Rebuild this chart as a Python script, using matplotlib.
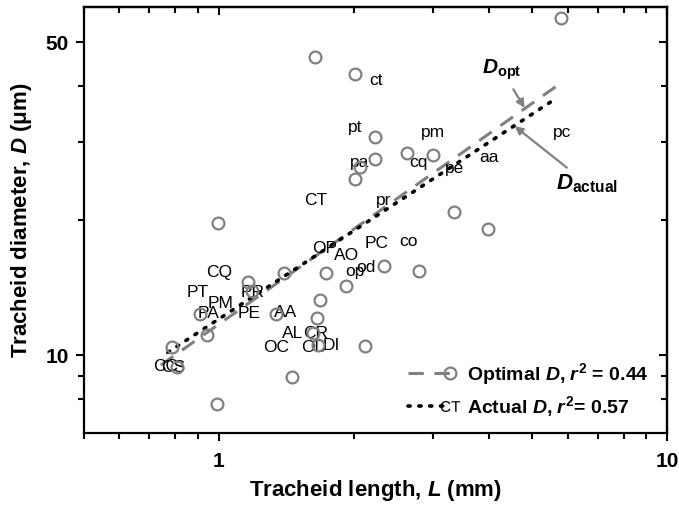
import numpy as np
import matplotlib
matplotlib.use('Agg')
import matplotlib.pyplot as plt
from matplotlib.lines import Line2D
from matplotlib.legend_handler import HandlerLine2D
from matplotlib.ticker import FixedLocator, NullFormatter, FixedFormatter

plt.rcParams['font.family'] = ['Liberation Sans', 'DejaVu Sans']
plt.rcParams['mathtext.fontset'] = 'custom'
plt.rcParams['mathtext.it'] = 'Liberation Sans:bold:italic'
plt.rcParams['mathtext.rm'] = 'Liberation Sans:bold'
plt.rcParams['mathtext.bf'] = 'Liberation Sans:bold'
plt.rcParams['mathtext.sf'] = 'Liberation Sans'

# ---- data: optimal D (open circles) ----
opt_L = [5.79, 1.64, 2.015, 2.23, 2.23, 2.63, 3.01, 2.06, 2.015, 3.34, 3.98,
         2.33, 2.79, 0.995, 1.398, 1.735, 1.161, 1.185, 1.924, 1.683, 0.907,
         1.341, 1.657, 0.940, 1.623, 1.665, 2.12, 1.457, 0.785, 0.99, 0.805]
opt_D = [56.7, 46.4, 42.5, 30.7, 27.4, 28.3, 28.0, 26.3, 24.7, 20.9, 19.1,
         15.8, 15.4, 19.7, 15.25, 15.25, 14.55, 13.9, 14.26, 13.3, 12.34,
         12.34, 12.1, 11.08, 11.19, 10.52, 10.47, 8.92, 10.41, 7.76, 9.39]

# ---- data: actual D (species codes as text) ----
act_names = ['ct', 'pt', 'pa', 'cq', 'pm', 'pc', 'aa', 'pe', 'pr', 'CT', 'PC',
             'co', 'OP', 'AO', 'od', 'op', 'CQ', 'PT', 'PR', 'PM', 'PA', 'PE',
             'AA', 'AL', 'CR', 'OC', 'OD', 'DI', 'CC', 'CS']
act_L = [2.245, 2.015, 2.058, 2.788, 3.01, 5.82, 4.0, 3.36, 2.33, 1.648, 2.245,
         2.65, 1.718, 1.924, 2.133, 2.015, 1.0, 0.897, 1.191, 1.01, 0.95, 1.167,
         1.412, 1.464, 1.648, 1.341, 1.631, 1.781, 0.761, 0.789]
act_D = [41.2, 32.3, 27.0, 26.9, 31.5, 31.5, 27.7, 26.2, 22.2, 22.2, 17.8,
         17.98, 17.35, 16.73, 15.72, 15.4, 15.32, 13.82, 13.82, 13.06, 12.41,
         12.41, 12.47, 11.19, 11.19, 10.41, 10.41, 10.52, 9.44, 9.39]

# ---- power-law fits D = a * L^b over [Lmin, Lmax] ----
opt_fit_a, opt_fit_b, opt_fit_Lmin, opt_fit_Lmax = 11.73, 0.706, 0.742, 5.64
act_fit_a, act_fit_b, act_fit_Lmin, act_fit_Lmax = 12.05, 0.655, 0.769, 5.67

legend_labels = ['Optimal $D$, $r^2$ = 0.44', 'Actual $D$, $r^2$= 0.57']

fig = plt.figure(figsize=(6.79, 5.22), dpi=100)
ax = fig.add_axes([84/679, 89/522, 583/679, 426/522])
ax.set_xscale('log')
ax.set_yscale('log')
ax.set_xlim(0.5, 10)
ax.set_ylim(6.7, 60)

grey = '#808080'
dash_style = (0, (5, 3.5))
dot_style = (0, (0.6, 2.4))
Lo = np.geomspace(opt_fit_Lmin, opt_fit_Lmax, 60)
ax.plot(Lo, opt_fit_a * Lo ** opt_fit_b, color=grey, lw=2.2,
        linestyle=dash_style, zorder=2)
La = np.geomspace(act_fit_Lmin, act_fit_Lmax, 60)
ax.plot(La, act_fit_a * La ** act_fit_b, color='black', lw=2.6,
        linestyle=dot_style, dash_capstyle='round', zorder=2)

for name, x, y in zip(act_names, act_L, act_D):
    ax.text(x, y, name, fontsize=12.5, ha='center', va='center', zorder=3)

ax.plot(opt_L, opt_D, linestyle='none', marker='o', ms=8.5, mfc='none',
        mec=grey, mew=1.6, zorder=4)

# annotations
ax.annotate('$D_{\\mathrm{opt}}$', xy=(4.81, 35.7), xytext=(4.27, 43.5),
            fontsize=15, ha='center', va='center',
            arrowprops=dict(arrowstyle='-|>', color=grey, lw=1.6,
                            mutation_scale=12, shrinkA=4, shrinkB=0))
ax.annotate('$D_{\\mathrm{actual}}$', xy=(4.57, 32.5), xytext=(6.62, 24.2),
            fontsize=16, ha='center', va='center',
            arrowprops=dict(arrowstyle='-|>', color=grey, lw=1.6,
                            mutation_scale=12, shrinkA=2, shrinkB=0))


class RightMarkerHandler(HandlerLine2D):
    def create_artists(self, *args, **kwargs):
        arts = super().create_artists(*args, **kwargs)
        for a in arts:
            if isinstance(a, Line2D):
                n = len(a.get_xdata())
                a.set_markevery([n - 1])
        return arts


h1 = Line2D([0], [0], color=grey, lw=2.2, linestyle=dash_style,
            marker='o', ms=8.5, mfc='none', mec=grey, mew=1.6)
h2 = Line2D([0], [0], color='black', lw=2.6, linestyle=dot_style,
            dash_capstyle='round', marker='$\\mathsf{CT}$', ms=14, mec='black',
            mfc='black', mew=0)
leg = ax.legend([h1, h2], legend_labels, loc='lower right',
                bbox_to_anchor=(0.999, -0.008), frameon=False,
                prop={'weight': 'bold', 'size': 14}, numpoints=1,
                handlelength=2.15, handletextpad=0.9, labelspacing=0.35,
                handler_map={h1: RightMarkerHandler(), h2: RightMarkerHandler()})

# ticks
ax.xaxis.set_major_locator(FixedLocator([1, 10]))
ax.xaxis.set_major_formatter(FixedFormatter(['1', '10']))
xminor = [0.5, 0.6, 0.7, 0.8, 0.9, 2, 3, 4, 5, 6, 7, 8, 9]
ax.xaxis.set_minor_locator(FixedLocator(xminor))
ax.xaxis.set_minor_formatter(NullFormatter())
ax.yaxis.set_major_locator(FixedLocator([10, 50]))
ax.yaxis.set_major_formatter(FixedFormatter(['10', '50']))
yminor = [8, 9, 20, 30, 40]
ax.yaxis.set_minor_locator(FixedLocator(yminor))
ax.yaxis.set_minor_formatter(NullFormatter())

ax.tick_params(which='both', direction='out', width=1.5)
ax.tick_params(which='major', length=6)
ax.tick_params(which='minor', length=4)
ax.tick_params(axis='x', which='major', pad=8, labelsize=15)
ax.tick_params(axis='y', which='major', pad=5, labelsize=15)
for lab in ax.get_xticklabels() + ax.get_yticklabels():
    lab.set_fontweight('bold')

for s in ax.spines.values():
    s.set_linewidth(1.6)

secx = ax.secondary_xaxis('top')
secx.xaxis.set_major_locator(FixedLocator([1, 10]))
secx.xaxis.set_minor_locator(FixedLocator(xminor))
secx.xaxis.set_major_formatter(NullFormatter())
secx.xaxis.set_minor_formatter(NullFormatter())
secx.tick_params(which='both', direction='in', width=1.5)
secx.tick_params(which='major', length=6)
secx.tick_params(which='minor', length=4)
secx.spines['top'].set_linewidth(1.6)

secy = ax.secondary_yaxis('right')
secy.yaxis.set_major_locator(FixedLocator([10, 50]))
secy.yaxis.set_minor_locator(FixedLocator(yminor))
secy.yaxis.set_major_formatter(NullFormatter())
secy.yaxis.set_minor_formatter(NullFormatter())
secy.tick_params(which='both', direction='in', width=1.5)
secy.tick_params(which='major', length=6)
secy.tick_params(which='minor', length=4)
secy.spines['right'].set_linewidth(1.6)

ax.set_xlabel('Tracheid length, $L$ (mm)', fontsize=16, fontweight='bold', labelpad=5)
ax.set_ylabel('Tracheid diameter, $D$ (\u03bcm)', fontsize=16, fontweight='bold', labelpad=8)

fig.savefig('out.png', dpi=100)
